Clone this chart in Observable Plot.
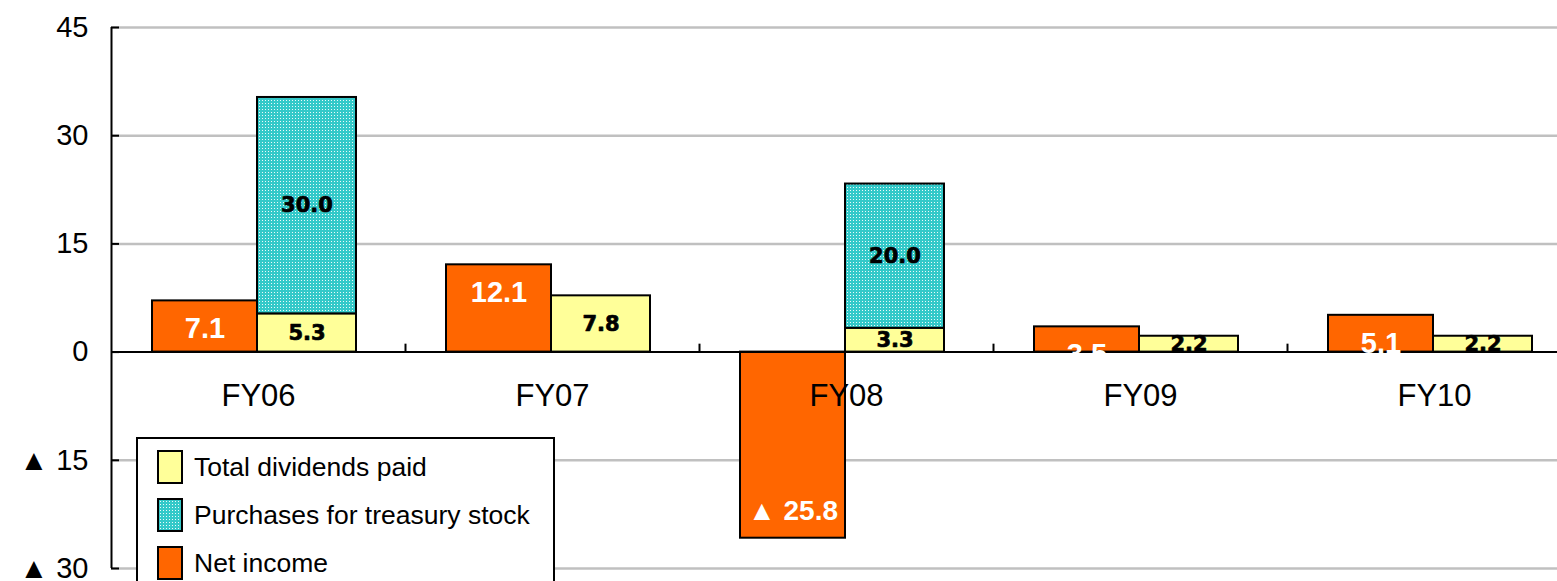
<!DOCTYPE html>
<html>
<head>
<meta charset="utf-8">
<script src="https://cdn.jsdelivr.net/npm/d3@7"></script>
<script src="https://cdn.jsdelivr.net/npm/@observablehq/plot@0.6"></script>
<style>
  html, body { margin: 0; padding: 0; background: #fff; }
  #wrap { position: relative; width: 1557px; height: 581px; overflow: hidden; font-family: "Liberation Sans", Arial, sans-serif; }
  #legend { position: absolute; left: 136px; top: 437px; width: 415px; height: 170px; border: 2px solid #000; background: #fff; box-sizing: content-box; }
  .item { position: absolute; left: 19px; height: 32px; display: flex; align-items: center; font-size: 26.5px; color: #000; white-space: nowrap; }
  .sw { width: 22px; height: 30px; border: 2px solid #000; margin-right: 11px; flex: none; }
</style>
</head>
<body>
<div id="wrap"></div>
<script>
// ---- data ----
const years = ["FY06", "FY07", "FY08", "FY09", "FY10"];
const netIncome = [7.1, 12.1, -25.8, 3.5, 5.1];
const dividends = [5.3, 7.8, 3.3, 2.2, 2.2];
const treasury = [30.0, 0, 20.0, 0, 0];
const seriesNames = ["Total dividends paid", "Purchases for treasury stock", "Net income"];
const seriesColors = ["#FFFF99", "url(#tsDots)", "#FF6600"];
const yTicks = [-30, -15, 0, 15, 30, 45];
const yTickLabels = ["▲ 30", "▲ 15", "0", "15", "30", "45"];

// ---- tables built from the arrays ----
const netRows = years.map((year, i) => ({year, series: seriesNames[2], value: netIncome[i]}));
const stackRows = [
  ...years.map((year, i) => ({year, series: seriesNames[0], value: dividends[i]})),
  ...years.map((year, i) => ({year, series: seriesNames[1], value: treasury[i]})).filter(d => d.value > 0)
];
const fmtNet = v => v < 0 ? "▲ " + Math.abs(v).toFixed(1) : v.toFixed(1);

const font = "'Liberation Sans', Arial, sans-serif";
const boldFont = "'DejaVu Sans', 'Liberation Sans', Arial, sans-serif";

const chart = Plot.plot({
  width: 1557,
  height: 581,
  marginTop: 27,
  marginBottom: 13,
  marginLeft: 111,
  marginRight: 0,
  style: {fontFamily: font, fontSize: "28px", background: "#fff", overflow: "hidden"},
  x: {domain: years, range: [111, 1581], padding: 0, axis: null},
  y: {domain: [-30, 45], range: [568, 27]},
  color: {domain: seriesNames, range: seriesColors},
  marks: [
    // gridlines
    Plot.ruleY(yTicks.filter(d => d !== 0), {stroke: "#c0c0c0", strokeWidth: 2.5}),
    // net income bars
    Plot.barY(netRows, {x: "year", y: "value", fill: "series", stroke: "#000", strokeWidth: 2, insetLeft: 41, insetRight: 148}),
    // stacked dividends + treasury
    Plot.barY(stackRows, {x: "year", y: "value", fill: "series", stroke: "#000", strokeWidth: 2, insetLeft: 146, insetRight: 49}),
    // zero line
    Plot.ruleY([0], {stroke: "#000", strokeWidth: 2}),
    // category boundary ticks
    Plot.ruleX(years.slice(1), {y1: 0, y2: 1.1, dx: -147, stroke: "#000", strokeWidth: 2}),
    // left axis line
    Plot.ruleX([years[0]], {y1: -30, y2: 45, dx: -147, stroke: "#000", strokeWidth: 2}),
    // inward y ticks
    Plot.tickY(yTicks, {y: d => d, x: () => years[0], insetRight: 286, stroke: "#000", strokeWidth: 2}),
    Plot.axisY({ticks: yTicks, tickSize: 0, tickPadding: 23, fontSize: 29, tickFormat: d => yTickLabels[yTicks.indexOf(d)], label: null}),
    // net income labels (inside end)
    Plot.text(netRows.filter(d => d.value >= 0), {x: "year", y: "value", text: d => fmtNet(d.value), dx: -53.5, dy: 28, fill: "#fff", fontWeight: "bold", fontSize: 29, fontFamily: font}),
    Plot.text(netRows.filter(d => d.value < 0), {x: "year", y: "value", text: d => fmtNet(d.value), dx: -53.5, dy: -27, fill: "#fff", fontWeight: "bold", fontSize: 28, fontFamily: font}),
    // stacked labels (centered)
    Plot.text(stackRows, Plot.stackY({x: "year", y: "value", text: d => d.value.toFixed(1), dx: 48.5, fill: "#000", stroke: "#000", strokeWidth: 0.7, fontWeight: "bold", fontSize: 21, fontFamily: boldFont, letterSpacing: "1.5px"})),
    // category labels
    Plot.text(years, {x: d => d, y: () => 0, dy: 44, fontSize: 31, fill: "#000"})
  ]
});

// dotted pattern for treasury stock
const ns = "http://www.w3.org/2000/svg";
const defs = document.createElementNS(ns, "defs");
defs.innerHTML = '<pattern id="tsDots" width="3" height="3" patternUnits="userSpaceOnUse">' +
  '<rect width="3" height="3" fill="#33C9C9"/><rect x="1" y="1" width="1" height="1" fill="#ffffff" opacity="0.9"/></pattern>';
chart.insertBefore(defs, chart.firstChild);

const wrap = document.getElementById("wrap");
wrap.appendChild(chart);

// legend (overlaid on the chart like the original)
const legend = document.createElement("div");
legend.id = "legend";
const swatchStyles = {
  "Total dividends paid": "background:#FFFF99",
  "Purchases for treasury stock": "background-color:#33C9C9;background-image:radial-gradient(circle, rgba(255,255,255,0.9) 0.6px, transparent 0.8px);background-size:3px 3px",
  "Net income": "background:#FF6600"
};
const tops = [12, 60, 108];
seriesNames.forEach((name, i) => {
  const item = document.createElement("div");
  item.className = "item";
  item.style.top = tops[i] + "px";
  item.innerHTML = '<span class="sw" style="' + swatchStyles[name] + '"></span><span>' + name + '</span>';
  legend.appendChild(item);
});
wrap.appendChild(legend);
</script>
</body>
</html>
